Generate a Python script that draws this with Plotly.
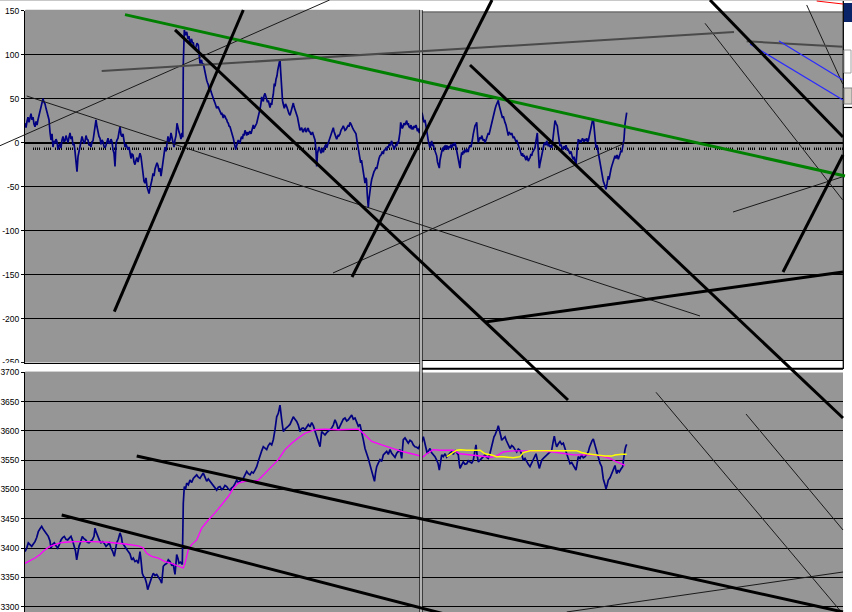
import plotly.graph_objects as go

# ---------------- DATA ----------------
# upper chart: oscillator (time index, value)
top_t = [0,1,2,3,4,5,6,7,8,9,10,11,12,13,14,15,16,17,18,19,20,21,22,23,24,25,26,27,28,29,30,31,32,33,34,35,36,37,38,39,
 40,41,42,43,44,45,46,47,48,49,50,51,52,53,54,55,56,57,58,59,60,61,62,63,64,65,66,67,68,69,70,71,72,73,74,75,76,77,78,79,
 80,81,82,83,84,85,86,87,88,89,90,91,92,93,94,95,96,97,98,99,100,101,102,103,104,105,106,107,108,109,110,111,112,113,114,115,116,117,118,119,
 120,121,122,123,124,125,126,127,128,129,130,131,132,133,134,135,136,137,138,139,140,141,142,143,144,145,146,147,148,149,150,151,152,153,154,155,156,157,157.8,
 158.3,159.3,160.5,161.7,163,164,165,166.5,167.5,168.3,169,170,171,172,173.3,174,175,176.5,177.5,178.3,179,180,181,181.7,182.5,183.3,184,185,186,186.7,
 188,189,190,191,191.7,193,194,195,196,196.7,197.5,198.3,199,200,201,201.7,202.5,203.3,204,205,206,206.7,207.5,208.3,209,210,210.7,211.5,212,213.3,
 214,215,216,216.7,217.5,218.3,219,220,221,221.7,222.5,223.3,224,225,226,226.7,227.5,228.3,229,230,231,231.7,232.5,233.3,234,235,236,236.7,237.5,238.3,
 239,240,241,241.7,242.5,243.3,244,245,246,246.7,247.5,248.3,249.3,250,251,252,252.7,253.5,254,254.5,255,255.5,256,256.7,257.5,258,259.3,260,260.5,261.7,
 262.5,263.3,264,265,266,266.7,267.5,268.3,269,270,271,271.7,272.5,273.3,274,275,276,276.7,277.5,278.3,279,280,281,281.7,282.5,283.3,284,285,286,286.7,
 287.5,288.3,289,290,291,291.7,292.5,293.3,294,295,296,296.7,297.5,298.3,299,300,301,301.7,302.5,303.3,304,305,306,306.7,307.5,308.3,309,310,311,311.7,
 312.5,313.3,314,315,316,316.7,317.5,318.3,319,320,321,321.7,322.5,323.3,324,325,326,326.7,327.5,328.3,329,330,331,332,333.3,334.5,335.7,336.5,337.7,338.5,
 339.3,340,340.8,341.5,342.2,342.7,343.3,343.8,344.3,345,345.8,346.7,347.5,348.3,349,350,351,351.7,352.5,353.3,354,355,356,356.7,357.5,358.3,359,360,361,361.7,
 362.5,363.3,364,365,366,366.7,367.5,368.3,369,370,371,371.7,372.5,373.3,374,375,375.7,376.5,377.3,378.3,379,380,381,381.7,382.5,383.3,384,385,386,386.7,
 387.5,388.3,389,390,391,391.7,392.5,393.3,394.3,395,396,397,398,399,400,400.8,401.7,402.5,403.3,404,405,406,406.7,407.5,408.3,409,410,411,411.7,412.5,
 413.3,414.3,415,416,416.7,417.5,418.3,419,420,421,421.7,422.5,423.3,424,425,426,426.7,427.5,428.3,429,430,431,432,433.3,434,435,435.8,436.7,437.5,438.3,
 439,440,441,441.7,442.5,443.3,444,445,446,446.7,447.5,448.3,449,450,451,451.7,452.5,453.3,454,455,456,456.7,457.5,458.3,459,460,461,461.7,462.5,463.3,
 464,465,466,466.7,467.5,468.3,469,470,471,471.7,472.5,473.3,474,475,476,476.7,477.5,478.3,479,480,481,481.7,482.5,483.3,484,485,486,486.7,487.5,488.3,
 489,490,491,491.7,492.5,493.3,494,495,496,496.7,497.5,498.3,499,500,501,501.7,502.5,503.3,504,505,506,506.7,507.5,508.3,509,510,511,512.3,513.3,514.3,
 515,516,516.7,517.5,518.3,519,520,521,521.7,522.5,523.3,524,525,526,526.7,527.5,528.3,529,530,531,532.3,533,534,535,536,537,538.3,539,540,541,
 541.7,542.5,543.3,544,545,546,546.7,547.5,548.3,549,550,551,552,553.3,554,555,556,556.7,557.5,558.3,559,560,561,561.7,562.5,563.3,564,565,566,566.7,
 567.5,568.3,569,570,571,572,573,574.3,575,576,576.7,577.5,578.3,579,580,581,582,583.3,584,585,586,586.7,587.5,588.3,589,590,591,592,593.3,594,
 595,596,596.7,597.5,598.3,599,600,601,601.7]
top_v = [22,17,24,29,23,27,33,26,29,21,18,24,20,26,31,35,41,44,50,46,44,39,35,30,26,12,3,10,-5,2,-1,4,1,-8,-3,-2,-6,3,7,1,
 2,8,5,0,6,11,4,7,-3,-1,-10,-25,-33,-16,-10,-6,2,7,3,-1,1,8,4,3,-3,-2,-5,1,2,9,14,26,18,12,7,5,-2,3,1,-4,
 -6,-3,2,5,-1,0,4,1,-8,-12,-27,-1,3,5,12,18,9,7,10,2,-5,-2,-6,-8,-5,-12,-18,-13,-14,-22,-25,-20,-17,-22,-15,-12,-16,-25,-38,-44,
 -46,-40,-50,-54,-58,-52,-48,-42,-35,-38,-30,-26,-23,-26,-33,-29,-38,-30,-20,-12,-5,-10,-2,7,1,3,11,6,2,-5,3,8,22,15,12,9,4,11,6,
 90,128,122,126,118,121,112,118,113,114,108,106,109,113,111,100,90,94,88,90,85,82,76,71,68,66,61,63,58,55,
 52,48,45,41,39,41,38,37,33,34,30,28,31,30,27,26,23,22,19,18,14,12,8,5,0,-3,-8,-4,-2,3,
 1,0,5,7,4,10,8,14,11,8,12,9,11,13,10,14,17,20,16,18,21,22,26,29,33,38,45,52,49,47,
 53,56,52,50,46,48,44,40,45,43,50,55,67,64,72,76,82,86,88,92,95,84,75,52,48,45,39,42,44,41,
 37,36,33,31,36,40,43,45,41,38,35,33,29,24,18,14,16,17,13,12,15,16,12,13,16,16,13,12,9,10,
 12,9,6,3,-10,-27,-12,-8,-5,-8,-12,-10,-6,-11,-7,-4,-2,-6,-3,0,2,4,9,12,15,17,13,8,6,4,
 6,9,8,10,14,15,17,19,16,14,15,17,20,20,18,23,21,18,17,15,14,12,10,2,-6,-14,-23,-20,-31,-38,
 -43,-46,-40,-42,-58,-65,-74,-66,-60,-53,-48,-42,-38,-36,-33,-31,-28,-30,-25,-22,-18,-15,-14,-12,-10,-13,-9,-8,-6,-9,
 -4,-6,-2,-3,0,2,-3,-4,-8,-5,-2,-4,1,-1,4,12,23,20,16,19,22,20,23,25,20,22,18,17,20,15,
 18,15,19,17,20,17,13,16,11,14,20,34,28,23,26,18,13,8,2,-3,-6,-1,2,-4,-2,-6,-10,-12,-15,-22,
 -25,-29,-20,-12,-8,-6,-10,-5,-4,-8,-3,-6,-8,-4,-6,-2,-6,-3,-1,-4,0,-5,-12,-19,-25,-29,-18,-11,-14,-9,
 -12,-8,-11,-7,-10,-10,-6,-3,-5,-2,4,10,15,19,21,23,10,0,3,6,4,8,5,2,4,0,3,6,9,11,
 9,14,20,25,28,32,35,38,42,44,46,48,43,38,33,31,28,30,26,23,20,15,10,8,12,11,9,11,7,5,
 7,4,1,3,0,-2,-6,-10,-12,-15,-12,-16,-14,-17,-20,-15,-18,-21,-19,-17,-13,-15,-11,-9,-8,-6,2,11,-10,-29,
 -24,-18,-15,-9,-5,-2,0,-3,2,-1,-4,-2,-5,-3,-6,0,8,16,25,22,19,12,4,-4,-2,-6,-8,-4,-7,-3,
 -6,-9,-8,-11,-13,-10,-15,-17,-19,-16,-21,-25,-10,4,1,3,0,2,5,3,1,4,2,5,1,2,6,10,18,23,
 25,27,20,8,-6,-3,-10,-15,-20,-28,-34,-40,-44,-46,-50,-53,-47,-38,-42,-33,-30,-27,-24,-20,-18,-15,-18,-14,-19,-15,
 -13,-9,-11,-6,-2,4,21,28,34]

# lower chart: price (time index, value)
bot_t = [0,1.7,3.3,5,6.7,8.3,10,11.7,13.3,15,16.7,18.3,20,21.7,23.3,25,26,27.5,29.3,31,32.7,34.3,36,37.7,39.3,41,42.7,44.3,46,47.7,
 49.3,50.5,51.7,52.5,54,55.5,57.3,59,60.7,62.3,64,65.7,67.3,69,70,71,72.7,74.3,76,77.7,79.3,81,82.7,84.3,86,87.5,89.3,90.5,91.7,93.3,
 95,96.5,97.3,98.5,100,101.7,103.3,105,106.7,108.3,110,111.7,113.3,115,116,117.3,118.5,120,121.5,122.7,124,125,126.7,128.3,130,131.7,133,134.3,135.5,136.7,
 138.3,140,141.7,143.3,145,146.7,148.3,150,151.7,153,154,155.5,157.3,158.3,159.3,160.5,161.7,163.3,165,166.7,168.3,170,171.7,173.3,175,176.7,178.3,180,181.7,183.3,
 185,186.7,188.3,190,191.7,193.3,195,196.7,198.3,200,201.7,203.3,205,206.7,208.3,210,211.7,213.3,215,216.7,218.3,220,221.7,223.3,225,226.7,228.3,230,231.7,233.3,
 235,236.7,238.3,240,241.7,243.3,245,246.7,248.3,250,251.7,253.3,255,256.7,258.3,260,261.7,263.3,265,266.7,268.3,270,271.7,273.3,275,276.7,278.3,280,281.7,283.3,
 285,286.7,288.3,290,291.7,293.3,295,296.7,298.3,300,301.7,303.3,305,306.7,308.3,310,311.7,313.3,315,316.7,318.3,320,321.7,323.3,325,326.7,328.3,330,331.7,333.3,
 335,336.7,338.3,340,341.7,343.3,345,346.7,348.3,349.5,350.5,351.7,353.3,355,356.7,358.3,360,361.7,363.3,365,366.7,368.3,370,371.7,373.3,375,376.7,378.3,380,381.7,
 383.3,385,386.7,388.3,390,391.7,393.3,
 397,398.3,399.2,400,401.2,402.3,403.5,405,406.5,408.3,410,411.7,413,414.3,415.5,416.7,418.3,420,421.7,423.3,425,426.7,428.3,430,431.7,433.3,434.2,435,436.7,438.3,
 440,441.7,443.3,445,446.7,448.3,449.5,451,452,453.3,455,456.7,458.3,460,461.7,463.3,465,466.7,468,469,470.3,471.7,472.5,473.3,474.2,475,476,476.7,478.3,480,
 481.2,482.3,483.7,485,486.7,488.3,490,491.7,493.3,495,496.7,498.3,500,501.7,503.3,505,506.7,508.3,509.7,511,512.7,514.3,515.5,516.7,518.3,520,521.7,523.3,525,526.7,
 528,529.3,530.5,531.7,533.3,535,536.7,538.3,540,541.7,543.3,545,546.7,548.3,549.7,551,552.2,553.3,555,556.7,558.3,560,561.7,563.3,564.5,565.7,567,568.3,569.5,570.7,
 572,573.3,575,576.7,577.5,578.3,579.7,581,582.2,583.3,585,586.7,588.3,590,590.8,591.7,593,594.3,596,597.7,598.5,599,600,600.7,601.7]
bot_v = [3394,3400,3409,3405,3403,3407,3411,3418,3428,3433,3437,3432,3428,3425,3420,3412,3400,3406,3409,3404,3400,3406,3414,3418,3420,3415,3414,3417,3420,3412,
 3403,3395,3380,3388,3403,3410,3420,3416,3414,3410,3409,3412,3414,3420,3434,3428,3420,3414,3409,3411,3408,3403,3406,3409,3400,3395,3386,3398,3409,3415,
 3426,3418,3409,3406,3403,3398,3394,3390,3380,3383,3377,3379,3374,3394,3380,3357,3352,3349,3340,3329,3336,3343,3350,3357,3353,3355,3352,3349,3345,3340,
 3369,3372,3374,3380,3377,3371,3372,3355,3389,3382,3374,3376,3372,3477,3505,3500,3511,3508,3516,3512,3519,3522,3525,3521,3519,3524,3528,3521,3514,3518,
 3514,3511,3508,3503,3499,3504,3505,3500,3502,3507,3505,3501,3499,3503,3505,3510,3516,3512,3514,3517,3519,3525,3531,3527,3525,3530,3528,3533,3539,3548,
 3559,3566,3573,3570,3568,3575,3579,3576,3585,3602,3624,3630,3644,3619,3599,3603,3605,3608,3611,3618,3624,3620,3616,3610,3599,3604,3605,3602,3608,3611,
 3607,3614,3609,3600,3590,3580,3573,3599,3596,3593,3597,3599,3602,3605,3610,3619,3612,3602,3608,3616,3620,3622,3617,3619,3624,3627,3620,3622,3615,3608,
 3611,3600,3585,3570,3562,3553,3542,3531,3520,3514,3528,3539,3545,3551,3548,3559,3562,3565,3560,3568,3562,3559,3555,3562,3566,3568,3553,3585,3588,3583,
 3579,3584,3582,3576,3573,3572,3570,
 3582,3590,3584,3579,3570,3561,3566,3570,3563,3559,3556,3550,3545,3533,3548,3559,3556,3561,3555,3559,3562,3564,3560,3567,3563,3559,3545,3536,3542,3547,
 3543,3544,3549,3547,3545,3550,3560,3576,3560,3547,3550,3553,3556,3559,3555,3553,3562,3576,3584,3590,3594,3599,3604,3609,3604,3599,3590,3584,3587,3590,
 3584,3579,3575,3570,3575,3573,3568,3564,3569,3567,3560,3550,3553,3547,3543,3539,3545,3550,3556,3561,3548,3536,3543,3550,3553,3556,3559,3561,3565,3567,
 3580,3591,3580,3573,3578,3582,3577,3579,3570,3561,3552,3544,3546,3541,3537,3533,3545,3556,3553,3559,3554,3556,3560,3564,3572,3579,3583,3586,3578,3570,
 3562,3556,3545,3539,3528,3518,3510,3501,3508,3516,3520,3527,3533,3541,3534,3527,3533,3530,3535,3539,3550,3561,3568,3573,3577]

# moving averages on the lower chart
ma_t = [0,10,15,20,25,30,35,40,50,66.7,83.3,100,113.3,118.3,121.7,126.7,133.3,140,146.7,153.3,158.3,160,163.3,166.7,171.7,176.7,183.3,190,196.7,203.3,
 208.3,213.3,220,226.7,233.3,240,246.7,253.3,260,266.7,273.3,280,290,300,313.3,333.3,338.3,346.7,356.7,366.7,376.7,386.7,398.3,401.7,408.3,415,428.3,435,445,455,
 461.7,466.7,473.3,478.3,488.3,495,505,515,528.3,538.3,548.3,558.3,568.3,578.3,585,591.7,596.7,600]
ma_v = [3374,3383,3389,3397,3403,3406,3409,3410,3411,3411,3410,3407,3404,3400,3391,3386,3383,3377,3374,3369,3366,3374,3397,3406,3414,3434,3448,3460,3474,3488,
 3502,3511,3514,3514,3516,3528,3539,3551,3568,3579,3588,3596,3602,3603,3602,3603,3596,3582,3576,3570,3565,3561,3556,3561,3568,3567,3567,3561,3559,3557,
 3555,3555,3559,3564,3566,3566,3567,3566,3564,3561,3559,3559,3559,3556,3553,3547,3544,3541]
ma2_t = [421.7,426.7,431.7,435,441.7,455,460,466.7,471.7,478.3,488.3,495,498.3,505,515,528.3,538.3,551.7,556.7,561.7,571.7,580,586.7,590,596.7,601.7]
ma2_v = [3556,3561,3567,3568,3567,3567,3561,3559,3556,3556,3554,3556,3563,3566,3566,3567,3566,3566,3563,3561,3559,3557,3557,3559,3560,3560]

dotted_level = -7

top_ticks = [150, 100, 50, 0, -50, -100, -150, -200, -250]
top_labels = ["150", "100", "50", "0", "-50", "-100", "-150", "-200", "-250"]
bot_ticks = [3700, 3650, 3600, 3550, 3500, 3450, 3400, 3350, 3300]
bot_labels = ["3700", "3650", "3600", "3550", "3500", "3450", "3400", "3350", "3300"]

# hand-drawn trend lines, upper-chart units: ((t0, v0), (t1, v1))
upper_thick = [((89.3, -192.2), (218.3, 150.8)), ((150, 128.1), (543, -292.6)), ((327, -152.8), (467, 162.2)),
               ((445, 88.3), (818, -313.1)), ((685, 162.2), (818, 6.4)), ((758, -147.1), (818, -14.1)),
               ((460, -204.0), (818, -147.1))]
upper_thin = [((-25, -3.5), (304.6, 162.2)), ((1.7, 53.0), (675, -197.1)), ((308, -148.2), (600, -0.4)),
              ((680, 135.7), (817.7, -65.2)), ((781.7, 156.5), (817.7, 66.7)), ((708, -78.9), (818, -38.7))]
upper_gray = [((76.7, 81.4), (709, 125.8)), ((721.7, 115.2), (818, 109.1))]
upper_green = [((100, 145.5), (820, -37.9))]
upper_blue = [((725, 112.1), (818, 48.5)), ((754, 115.6), (818, 71.2))]
upper_red = [((791.7, 161.0), (818, 157.6))]
# lower-chart units
lower_thick = [((36.7, 3456.5), (435, 3280.7)), ((111.7, 3557.2), (818, 3291.0))]
lower_thin = [((631, 3665.9), (818, 3287.5)), ((721, 3628.8), (818, 3430.9)), ((541.7, 3291.0), (818, 3359.2))]

# ---------------- GEOMETRY ----------------
W, H = 852, 612
PL, PR = 25, 843
TOP_T, TOP_B = 10.7, 362.5
BOT_T, BOT_B = 372.3, 612
GRAY = "#969696"

def xd(px):
    return px / W

def yd(py):
    return 1 - py / H

k_top = 400.0 / (TOP_B - TOP_T)           # units per px, upper chart
k_bot = 50.0 / 29.3                       # units per px, lower chart
bot_min = 3700 - (BOT_B - BOT_T) * k_bot

fig = go.Figure()

blue = "#000080"
fig.add_trace(go.Scatter(x=[8, PR - PL], y=[dotted_level, dotted_level], mode="lines",
                         line=dict(color="black", width=2.5, dash="1px,1px,1px,1px,1px,1px,1px,4px"),
                         xaxis="x", yaxis="y", hoverinfo="skip"))
fig.add_trace(go.Scatter(x=top_t, y=top_v, mode="lines", line=dict(color=blue, width=1.7),
                         xaxis="x", yaxis="y"))
fig.add_trace(go.Scatter(x=bot_t, y=bot_v, mode="lines", line=dict(color=blue, width=1.7),
                         xaxis="x2", yaxis="y2"))
fig.add_trace(go.Scatter(x=ma_t, y=ma_v, mode="lines", line=dict(color="#ff00ff", width=1.3),
                         xaxis="x2", yaxis="y2"))
fig.add_trace(go.Scatter(x=ma2_t, y=ma2_v, mode="lines", line=dict(color="#ffff00", width=1.5),
                         xaxis="x2", yaxis="y2"))
# empty trace so the pixel overlay subplot exists
fig.add_trace(go.Scatter(x=[], y=[], xaxis="x3", yaxis="y3"))

def add_lines(lines, color, width, xa, ya):
    xs, ys = [], []
    for (a, b) in lines:
        xs += [a[0], b[0], None]
        ys += [a[1], b[1], None]
    fig.add_trace(go.Scatter(x=xs, y=ys, mode="lines", line=dict(color=color, width=width),
                             xaxis=xa, yaxis=ya, hoverinfo="skip"))

add_lines(upper_thin, "#1a1a1a", 1, "x4", "y4")
add_lines(upper_gray, "#4a4a4a", 2, "x4", "y4")
add_lines(upper_blue, "#2a2aff", 1.2, "x4", "y4")
add_lines(upper_red, "#ff0000", 1, "x4", "y4")
add_lines(upper_green, "#008000", 3, "x4", "y4")
add_lines(upper_thick, "black", 3, "x4", "y4")
add_lines(lower_thin, "#1a1a1a", 1, "x5", "y5")
add_lines(lower_thick, "black", 3, "x5", "y5")

tickfont = dict(family="Liberation Sans, Arial, sans-serif", size=8.5, color="black")

fig.update_layout(
    width=W, height=H, margin=dict(l=0, r=0, t=0, b=0, autoexpand=False),
    paper_bgcolor="white", plot_bgcolor="rgba(0,0,0,0)",
    showlegend=False, hovermode=False,
    xaxis=dict(domain=[xd(PL), xd(PR)], range=[0, PR - PL], anchor="y", showgrid=False, zeroline=False,
               showticklabels=False, ticks="", showline=True, linecolor="black", linewidth=1),
    yaxis=dict(domain=[yd(TOP_B), yd(TOP_T)], range=[-250, 150], anchor="x", tickvals=top_ticks, ticktext=top_labels,
               ticks="outside", ticklen=3, tickcolor="black", tickfont=tickfont, showline=True, linecolor="black",
               linewidth=1, showgrid=True, gridcolor="black", gridwidth=1, zeroline=True, zerolinecolor="black",
               zerolinewidth=2.2, automargin=False),
    xaxis2=dict(domain=[xd(PL), xd(PR)], range=[0, PR - PL], anchor="y2", visible=False),
    yaxis2=dict(domain=[0, yd(BOT_T)], range=[bot_min, 3700], anchor="x2", tickvals=bot_ticks, ticktext=bot_labels,
                ticks="outside", ticklen=3, tickcolor="black", tickfont=tickfont, showline=True, linecolor="black",
                linewidth=1, showgrid=True, gridcolor="black", gridwidth=1, zeroline=False, automargin=False),
    xaxis3=dict(domain=[0, 1], range=[0, W], anchor="y3", visible=False),
    yaxis3=dict(domain=[0, 1], range=[H, 0], anchor="x3", visible=False),
    xaxis4=dict(domain=[0, 1], range=[-PL, W - PL], anchor="y4", visible=False),
    yaxis4=dict(domain=[0, 1], range=[150 - (H - TOP_T) * k_top, 150 + TOP_T * k_top], anchor="x4", visible=False),
    xaxis5=dict(domain=[0, 1], range=[-PL, W - PL], anchor="y5", visible=False),
    yaxis5=dict(domain=[0, 1], range=[bot_min, 3700 + BOT_T * k_bot], anchor="x5", visible=False),
)

shapes = []
# gray plot backgrounds (below everything)
shapes.append(dict(type="rect", xref="paper", yref="paper", x0=xd(PL), x1=xd(PR), y0=yd(TOP_B), y1=yd(10),
                   fillcolor=GRAY, line=dict(width=0), layer="below"))
shapes.append(dict(type="rect", xref="paper", yref="paper", x0=xd(PL), x1=xd(PR), y0=0, y1=yd(371.8),
                   fillcolor=GRAY, line=dict(width=0), layer="below"))

def prect(x0, y0, x1, y1, fill, lc=None, lw=0):
    shapes.append(dict(type="rect", xref="x3", yref="y3", x0=x0, x1=x1, y0=y0, y1=y1, fillcolor=fill,
                       line=dict(color=lc or fill, width=lw), layer="below"))

def pline(x0, y0, x1, y1, color, width):
    shapes.append(dict(type="line", xref="x3", yref="y3", x0=x0, x1=x1, y0=y0, y1=y1,
                       line=dict(color=color, width=width), layer="below"))

# window decorations drawn in pixel overlay (above data, below trend lines)
prect(25.6, 9.8, 420, 11.6, GRAY)            # hide top grid line (left)
prect(421, 0, 843, 11.6, "white")            # top strip right
pline(421, 12, 843, 12, "#5a5a5a", 1)
prect(25.6, 371.8, 843, 373.2, GRAY)         # hide 3700 grid line
prect(421, 360, 843, 372.4, "white")         # strip between panels (right)
pline(421, 360.5, 843, 360.5, "black", 1)
pline(421, 368.8, 843, 368.8, "black", 2)
prect(0, 362.9, 24, 367.5, "white")          # clip the -250 label
# split bar
pline(421, 10, 421, H, "black", 3.2)
pline(421, 10, 421, H, "white", 1.4)
# right border and window widgets
pline(843.3, 0, 843.3, 369, "black", 1.3)
pline(0, 0.5, W, 0.5, "#c8c8c8", 1)
prect(844, 3, 852, 22, "#0a246a")
prect(844, 50, 851, 73, "white", "#a0a0a0", 1)
prect(844, 88, 852, 104, "#d4d0c8", "#808080", 1)
pline(843, 107.5, 852, 107.5, "black", 1.2)

fig.update_layout(shapes=shapes)
fig.write_html("out.html", config={"displayModeBar": False, "staticPlot": True},
               post_script="document.body.style.margin='0';document.body.style.overflow='hidden';")
